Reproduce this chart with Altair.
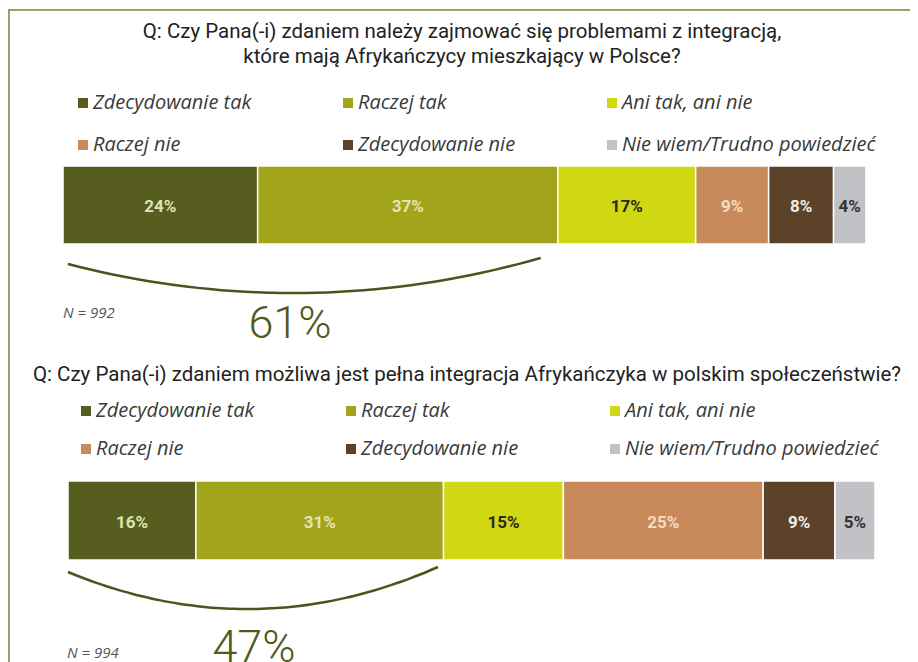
import altair as alt
import pandas as pd

# ---------------- data ----------------
categories = ["Zdecydowanie tak", "Raczej tak", "Ani tak, ani nie",
              "Raczej nie", "Zdecydowanie nie", "Nie wiem/Trudno powiedzieć"]
q1_values = [24, 37, 17, 9, 8, 4]
q2_values = [16, 31, 15, 25, 9, 5]
q1_title = ["Q: Czy Pana(-i) zdaniem należy zajmować się problemami z integracją,",
            "które mają Afrykańczycy mieszkający w Polsce?"]
q2_title = ["Q: Czy Pana(-i) zdaniem możliwa jest pełna integracja Afrykańczyka w polskim społeczeństwie?"]
q1_n = "N = 992"
q2_n = "N = 994"

# ---------------- styles ----------------
colors = ["#575d1f", "#a2a41b", "#d0d813", "#c98a5b", "#5b4229", "#c2c2c6"]
label_colors = ["#dfe2b0", "#e4e5b5", "#2a2a1a", "#f3dcc4", "#f0ece6", "#333333"]
FRAME = "#a39d68"
ARC = "#4d531c"
BIG = "#525a1e"
TITLE_FONT = "Roboto"
LEG_FONT = "Open Sans"

W, H = 902, 654

# layout (chart pixel coordinates)
P1 = dict(left=55, right=858, top=158, bottom=236, leg_x=65, leg_y=85, row_pad=22,
          titles=[24, 49], title_x=454, arc_l=0.6, arc_r=2.1, arc_yl=256, arc_yr=250,
          arc_low=285, n_x=55, n_y=305, big_x=282, big_y=330)
P2 = dict(left=60, right=867, top=473, bottom=552, leg_x=68, leg_y=393, row_pad=18,
          titles=[367], title_x=459, arc_l=0.0, arc_r=0.7, arc_yl=564, arc_yr=559,
          arc_low=601, n_x=59, n_y=645, big_x=246, big_y=654)


def xscale(vals, p):
    px = (p["right"] - p["left"]) / sum(vals)
    d0 = -p["left"] / px
    return alt.Scale(domain=[d0, d0 + W / px], nice=False, zero=False)


def panel(vals, titles, ntext, p):
    sc = xscale(vals, p)
    starts, s = [], 0
    for v in vals:
        starts.append(s)
        s += v
    seg = pd.DataFrame({
        "cat": categories,
        "value": vals,
        "start": starts,
        "end": [a + b for a, b in zip(starts, vals)],
        "label": [f"{v}%" for v in vals],
        "lc": label_colors,
    })
    seg["mid"] = (seg["start"] + seg["end"]) / 2

    bars = alt.Chart(seg).mark_rect(stroke="white", strokeWidth=1.5).encode(
        x=alt.X("start:Q", scale=sc, axis=None),
        x2="end:Q",
        y=alt.value(p["top"]),
        y2=alt.value(p["bottom"]),
        color=alt.Color("cat:N", sort=categories,
                        scale=alt.Scale(domain=categories, range=colors),
                        legend=alt.Legend(
                            title=None, orient="none", legendX=p["leg_x"], legendY=p["leg_y"],
                            direction="horizontal",
                            columns=3, columnPadding=86, rowPadding=p["row_pad"],
                            symbolType="square", symbolSize=100, symbolStrokeWidth=0,
                            labelFont=LEG_FONT, labelFontStyle="italic", labelFontSize=20,
                            labelColor="#3a3a3a", labelOffset=0, labelLimit=400, padding=0)),
    )
    labels = alt.Chart(seg).mark_text(font=TITLE_FONT, fontSize=17, fontWeight="bold",
                                      baseline="middle", align="center").encode(
        x=alt.X("mid:Q", scale=sc, axis=None),
        y=alt.value((p["top"] + p["bottom"]) / 2 + 2),
        text="label:N",
        color=alt.Color("lc:N", scale=None),
    )

    # bracket arc under the two "yes" segments
    total_yes = vals[0] + vals[1]
    xl, xr = p["arc_l"], total_yes - p["arc_r"]
    yl, yr = p["arc_yl"], p["arc_yr"]
    sag = p["arc_low"] - (yl + yr) / 2
    n = 41
    pts = []
    for i in range(n):
        t = i / (n - 1)
        pts.append({"x": xl + (xr - xl) * t,
                    "y": yl + (yr - yl) * t + sag * 4 * t * (1 - t)})
    arc = alt.Chart(pd.DataFrame(pts)).mark_line(color=ARC, strokeWidth=2.5,
                                                   interpolate="monotone").encode(
        x=alt.X("x:Q", scale=sc, axis=None),
        y=alt.Y("y:Q", scale=alt.Scale(domain=[0, H], reverse=True, nice=False, zero=False),
                axis=None),
    )

    layers = [bars, labels, arc]
    for line, yv in zip(titles, p["titles"]):
        layers.append(alt.Chart(pd.DataFrame({"t": [line]})).mark_text(
            font=TITLE_FONT, fontSize=20.5, color="#222222", align="center", baseline="middle"
        ).encode(x=alt.value(p["title_x"]), y=alt.value(yv), text="t:N"))
    layers.append(alt.Chart(pd.DataFrame({"t": [ntext]})).mark_text(
        font=LEG_FONT, fontSize=15, fontStyle="italic", color="#555555",
        align="left", baseline="middle"
    ).encode(x=alt.value(p["n_x"]), y=alt.value(p["n_y"]), text="t:N"))
    layers.append(alt.Chart(pd.DataFrame({"t": [f"{total_yes}%"]})).mark_text(
        font=TITLE_FONT, fontSize=45, fontWeight=300, color=BIG,
        align="center", baseline="alphabetic"
    ).encode(x=alt.value(p["big_x"]), y=alt.value(p["big_y"]), text="t:N"))
    return layers


frame_top = alt.Chart(pd.DataFrame({"a": [0]})).mark_rule(color=FRAME, strokeWidth=2).encode(
    x=alt.value(0), x2=alt.value(W), y=alt.value(2))
frame_left = alt.Chart(pd.DataFrame({"a": [0]})).mark_rule(color=FRAME, strokeWidth=2).encode(
    x=alt.value(1), y=alt.value(2), y2=alt.value(H))

chart = alt.layer(
    frame_top, frame_left,
    *panel(q1_values, q1_title, q1_n, P1),
    *panel(q2_values, q2_title, q2_n, P2),
).resolve_scale(x="independent", color="independent").properties(
    width=W, height=H, padding=0,
    autosize=alt.AutoSizeParams(type="none"),
).configure_view(stroke=None)

chart.save("out.html", embed_options={"renderer": "svg", "actions": False})
